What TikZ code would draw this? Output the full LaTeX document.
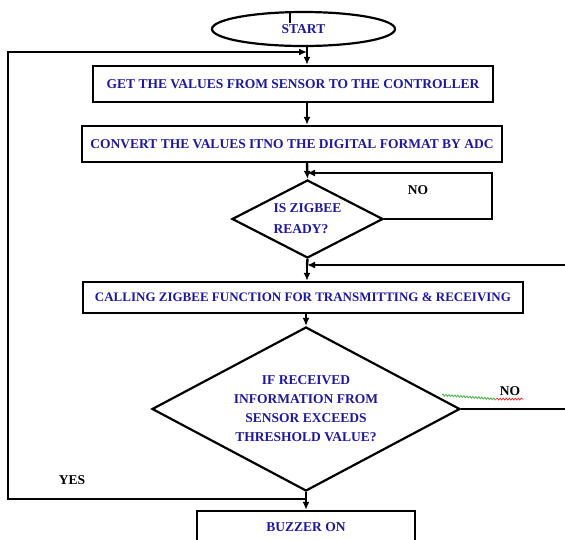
\documentclass[tikz,border=0pt]{standalone}
\usepackage{fontspec}
\setmainfont{Liberation Serif}
\usetikzlibrary{shapes.geometric,arrows.meta,decorations.pathmorphing}

\definecolor{txtblue}{RGB}{30,24,150}
\definecolor{spellgreen}{RGB}{60,170,60}
\definecolor{spellred}{RGB}{230,40,40}

\tikzset{
	txt/.style={font=\bfseries\fontsize{13.5}{19}\selectfont, text=txtblue},
	box/.style={txt, draw, rectangle, line width=2.4pt, inner sep=0pt},
	decision/.style={txt, draw, diamond, aspect=2, line width=2.2pt, inner sep=0pt},
	lbl/.style={font=\bfseries\fontsize{13.5}{15}\selectfont, text=black},
	flow/.style={line width=2.4pt, -{Latex[length=8pt,width=7pt]}},
	wire/.style={line width=2.4pt}
}

\begin{document}
\begin{tikzpicture}[x=1pt,y=-1pt]
			\useasboundingbox (0,0) rectangle (565,539);

			% start and boxes
			\node[txt, draw, ellipse, line width=2.2pt, minimum width=183pt, minimum height=34pt] (start) at (303.5,29) {START};
			\draw[wire] (290,12) -- (290,23);
			\node[box, minimum width=400pt, minimum height=36pt] (get) at (293,84) {GET THE VALUES FROM SENSOR TO THE CONTROLLER};
			\node[box, minimum width=420pt, minimum height=36pt] (adc) at (292,144) {CONVERT THE VALUES ITNO THE DIGITAL FORMAT BY ADC};

			% decisions
			\node[decision, align=left, font=\bfseries\fontsize{13.5}{21}\selectfont, minimum width=151pt, minimum height=78pt] (ready) at (307.5,219) {IS ZIGBEE\\READY?};
			\node[box, font=\bfseries\fontsize{13}{19}\selectfont, minimum width=440pt, minimum height=31pt] (call) at (303,297.5) {CALLING ZIGBEE FUNCTION FOR TRANSMITTING \& RECEIVING};
			\node[decision, align=center, minimum width=308pt, minimum height=164pt] (check) at (306,409) {IF RECEIVED\\INFORMATION FROM\\SENSOR EXCEEDS\\THRESHOLD VALUE?};
			\node[box, minimum width=218pt, minimum height=32pt] (buzz) at (306,527) {BUZZER ON};

			% junctions on the spine
			\coordinate (top) at (307,52);
			\coordinate (back) at (307,173);
			\coordinate (mid) at (307,265);
			\coordinate (low) at (306,499);
			\coordinate (edge1) at (565,265);
			\coordinate (edge2) at (565,409);

			% connectors
			\draw[flow] (start.south -| top) -- (get.north -| top);
			\draw[flow] (get.south -| top) -- (adc.north -| top);
			\draw[flow] (adc.south -| top) -- (ready.north);
			\draw[wire] (ready.south) -- (mid);
			\draw[flow] (mid) -- (call.north -| mid);
			\draw[flow] (call.south -| check.north) -- (check.north);
			\draw[flow] (check.south) -- (buzz.north -| check.south);

			% loops
			\draw[flow] (ready.east) -- (492,219) -- (492,173) -- (back);
			\draw[flow] (edge1) -- (mid);
			\draw[wire] (check.east) -- (edge2);
			\draw[flow] (low) -- (8,499) -- (8,52) -- (top);

			% labels
			\node[lbl] (no1) at (418,190) {NO};
			\node[lbl] (no2) at (510,391) {NO};
			\node[lbl] (yes) at (72,480) {YES};
			\draw[spellgreen, line width=0.7pt, decorate, decoration={snake, amplitude=1pt, segment length=3pt}] (442,395) -- (no2.south west);
			\draw[spellred, line width=0.7pt, decorate, decoration={snake, amplitude=1pt, segment length=3pt}] (no2.south west) -- (no2.south east);

		\end{tikzpicture}
\end{document}
